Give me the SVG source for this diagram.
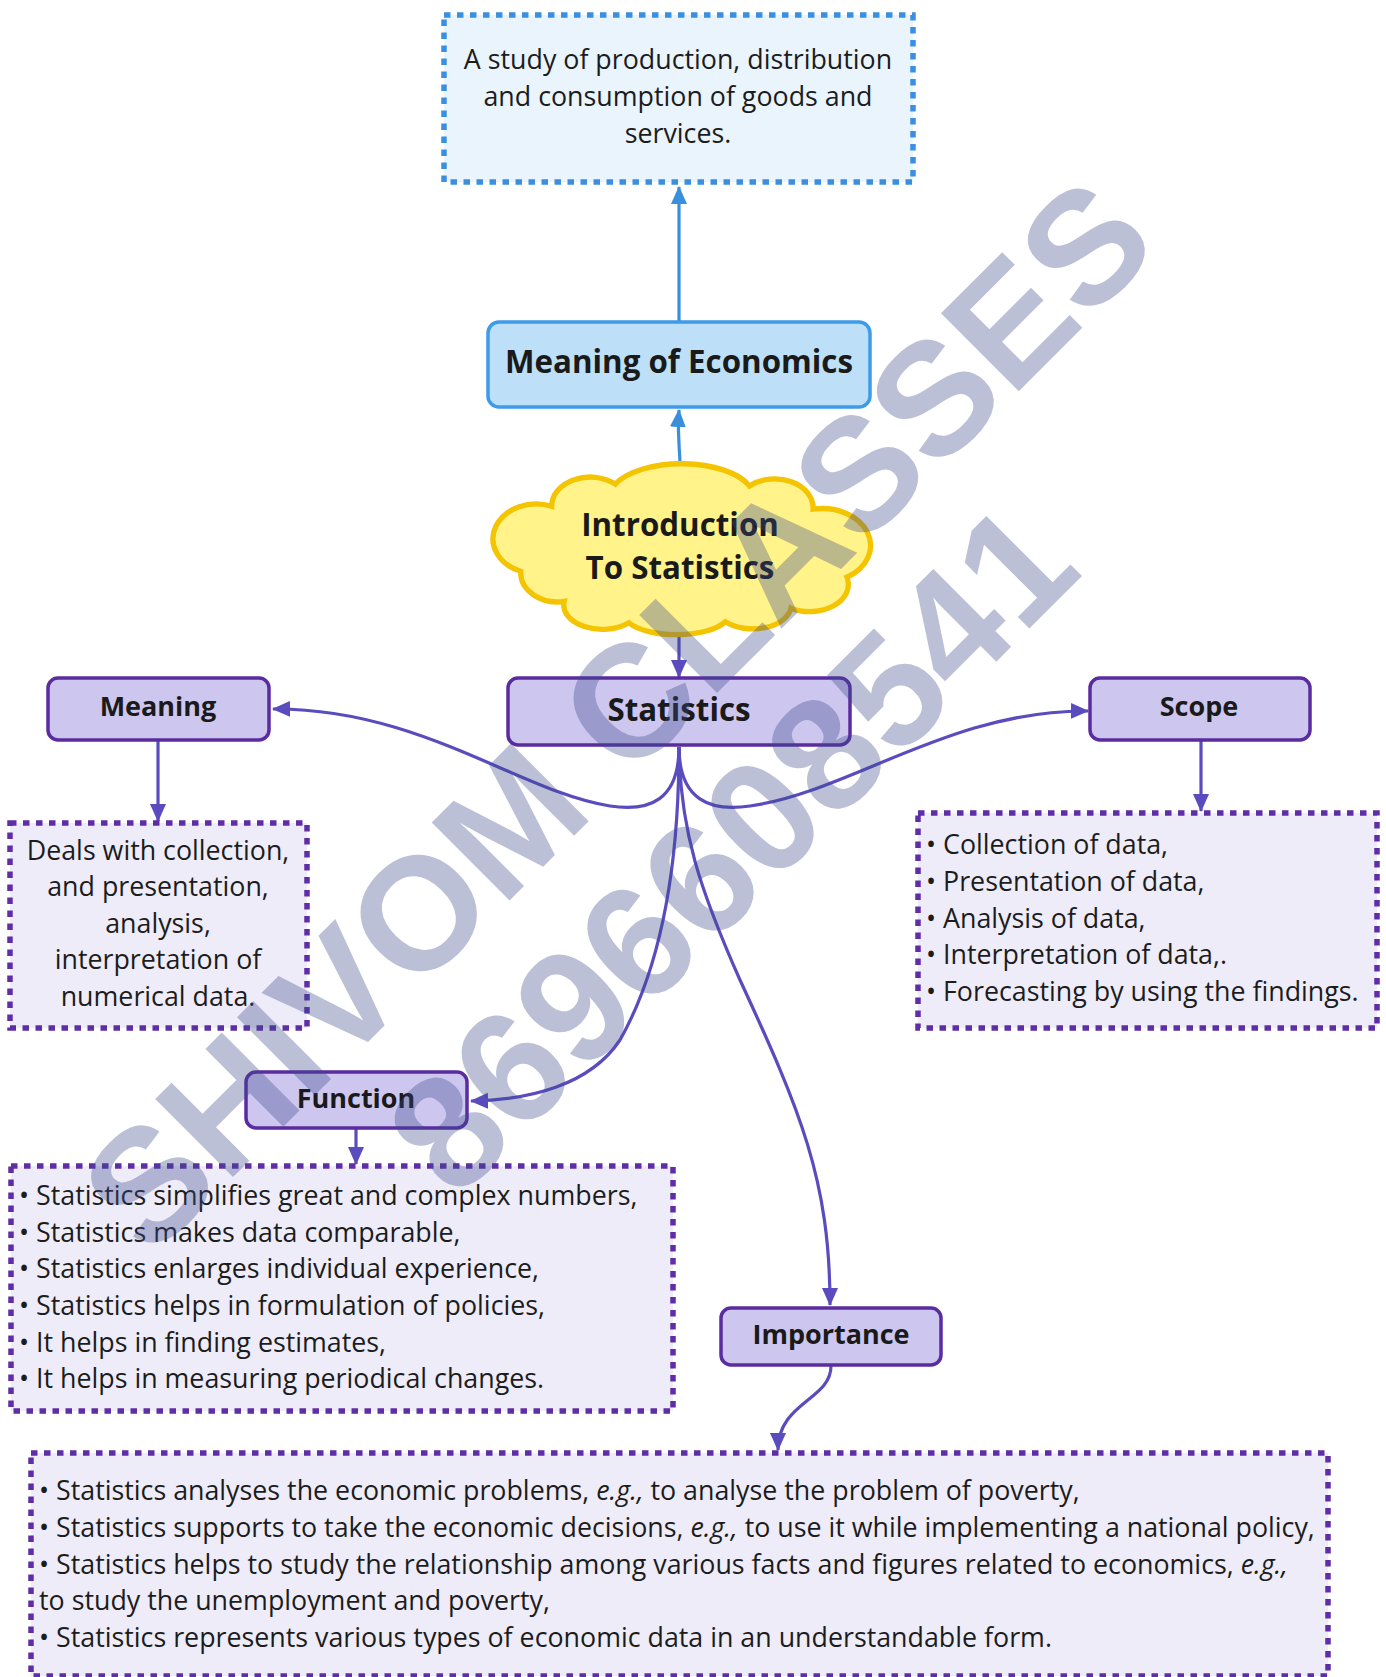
<svg xmlns="http://www.w3.org/2000/svg" width="1386" height="1677" viewBox="0 0 1386 1677">
<defs>
<style>
.txt{font-family:"Open Sans","Noto Sans","Liberation Sans",sans-serif;font-size:26.8px;fill:#1c1c1c}
.hd{font-family:"Open Sans","Noto Sans","Liberation Sans",sans-serif;font-weight:700;fill:#1a1a1a}
.mid{text-anchor:middle}
.pbox{fill:#cdc7ef;stroke:#5a2ca0;stroke-width:3.5}
.pdot{fill:#eeecf8;stroke:#5f2ea6;stroke-width:5.5;stroke-dasharray:6.5 6.5}
.bdot{fill:#eaf4fc;stroke:#3b8fe0;stroke-width:5.5;stroke-dasharray:6.5 6.5}
.pc{fill:none;stroke:#5a4bbf;stroke-width:3.2}
.bc{fill:none;stroke:#3a8fdc;stroke-width:3.2}
.wm{font-family:"Liberation Sans",Arial,sans-serif;font-weight:700;font-size:160px;fill:#3c4a8c;fill-opacity:0.35}
</style>
<marker id="ap" markerUnits="userSpaceOnUse" markerWidth="18" markerHeight="18" viewBox="0 0 18 18" refX="17" refY="9" orient="auto">
<path d="M0,1 L18,9 L0,17 z" fill="#5a4bbf"/>
</marker>
<marker id="ab" markerUnits="userSpaceOnUse" markerWidth="18" markerHeight="18" viewBox="0 0 18 18" refX="17" refY="9" orient="auto">
<path d="M0,1 L18,9 L0,17 z" fill="#3a8fdc"/>
</marker>
</defs>
<rect width="1386" height="1677" fill="#ffffff"/>

<g id="connectors">
<path class="bc" d="M679,322 L679,187" marker-end="url(#ab)"/>
<path class="bc" d="M680,465 C680,448 677,440 679,410" marker-end="url(#ab)"/>
<path class="pc" d="M679,633 L679,677" marker-end="url(#ap)"/>
<path class="pc" d="M679,747 C679,800 650,812 610,806 C520,792 420,708 273,709" marker-end="url(#ap)"/>
<path class="pc" d="M679,747 C679,800 710,812 750,806 C850,792 950,710 1088,711" marker-end="url(#ap)"/>
<path class="pc" d="M679,747 C679,850 665,960 620,1040 C590,1085 530,1100 471,1101" marker-end="url(#ap)"/>
<path class="pc" d="M679,747 C680,830 700,890 740,980 C800,1110 830,1180 830,1305" marker-end="url(#ap)"/>
<path class="pc" d="M158,740 L158,821" marker-end="url(#ap)"/>
<path class="pc" d="M1201,740 L1201,811" marker-end="url(#ap)"/>
<path class="pc" d="M356,1128 L356,1164" marker-end="url(#ap)"/>
<path class="pc" d="M831,1366 C831,1400 778,1402 778,1450" marker-end="url(#ap)"/>
</g>

<g id="economics-definition">
<rect class="bdot" x="444" y="15" width="469" height="167"/>
<text class="txt mid" x="678" y="69">A study of production, distribution</text>
<text class="txt mid" x="678" y="106">and consumption of goods and</text>
<text class="txt mid" x="678" y="143">services.</text>
</g>

<g id="meaning-of-economics">
<rect x="488" y="322" width="382" height="85" rx="11" fill="#bde0f8" stroke="#3d9be9" stroke-width="3.5"/>
<text class="hd mid" x="679" y="373" font-size="31.3">Meaning of Economics</text>
</g>

<g id="intro-cloud">
<path transform="translate(680,549) scale(0.965,0.97) translate(-680,-549)" d="M547,505 A40,30 0 0 1 613,482 A75,35 0 0 1 752,484 A40,30 0 0 1 818,508 A50,38 0 0 1 853,578 A40,28 0 0 1 795,610 A40,25 0 0 1 727,624 A55,22 0 0 1 627,625 A40,25 0 0 1 560,603 A38,30 0 0 1 515,572 A40,32 0 0 1 547,505 Z" fill="#fff38a" stroke="#f5c400" stroke-width="5.5"/>
<text class="hd mid" x="680" y="536" font-size="31.3">Introduction</text>
<text class="hd mid" x="680" y="579" font-size="31.3">To Statistics</text>
</g>

<g id="statistics">
<rect class="pbox" x="508" y="678" width="342" height="67" rx="10"/>
<text class="hd mid" x="679" y="721" font-size="31.3">Statistics</text>
</g>

<g id="meaning">
<rect class="pbox" x="48" y="678" width="221" height="62" rx="10"/>
<text class="hd mid" x="158" y="716" font-size="27">Meaning</text>
</g>

<g id="meaning-desc">
<rect class="pdot" x="10" y="823" width="297" height="205"/>
<text class="txt mid" x="158" y="860">Deals with collection,</text>
<text class="txt mid" x="158" y="896">and presentation,</text>
<text class="txt mid" x="158" y="933">analysis,</text>
<text class="txt mid" x="158" y="969">interpretation of</text>
<text class="txt mid" x="158" y="1006">numerical data.</text>
</g>

<g id="scope">
<rect class="pbox" x="1090" y="678" width="220" height="62" rx="10"/>
<text class="hd mid" x="1199" y="716" font-size="27">Scope</text>
</g>

<g id="scope-desc">
<rect class="pdot" x="918" y="813" width="459" height="215"/>
<text class="txt" x="926" y="854">• Collection of data,</text>
<text class="txt" x="926" y="891">• Presentation of data,</text>
<text class="txt" x="926" y="928">• Analysis of data,</text>
<text class="txt" x="926" y="964">• Interpretation of data,.</text>
<text class="txt" x="926" y="1001">• Forecasting by using the findings.</text>
</g>

<g id="function">
<rect class="pbox" x="246" y="1072" width="221" height="56" rx="10"/>
<text class="hd mid" x="356" y="1108" font-size="27">Function</text>
</g>

<g id="function-desc">
<rect class="pdot" x="11" y="1166" width="662" height="245"/>
<text class="txt" x="19" y="1205">• Statistics simplifies great and complex numbers,</text>
<text class="txt" x="19" y="1242">• Statistics makes data comparable,</text>
<text class="txt" x="19" y="1278">• Statistics enlarges individual experience,</text>
<text class="txt" x="19" y="1315">• Statistics helps in formulation of policies,</text>
<text class="txt" x="19" y="1352">• It helps in finding estimates,</text>
<text class="txt" x="19" y="1388">• It helps in measuring periodical changes.</text>
</g>

<g id="importance">
<rect class="pbox" x="721" y="1308" width="220" height="57" rx="10"/>
<text class="hd mid" x="831" y="1344" font-size="27">Importance</text>
</g>

<g id="importance-desc">
<rect class="pdot" x="31" y="1453" width="1297" height="223"/>
<text class="txt" x="39" y="1500">• Statistics analyses the economic problems, <tspan font-style="italic">e.g.,</tspan> to analyse the problem of poverty,</text>
<text class="txt" x="39" y="1537">• Statistics supports to take the economic decisions, <tspan font-style="italic">e.g.,</tspan> to use it while implementing a national policy,</text>
<text class="txt" x="39" y="1574">• Statistics helps to study the relationship among various facts and figures related to economics, <tspan font-style="italic">e.g.,</tspan></text>
<text class="txt" x="39" y="1610">to study the unemployment and poverty,</text>
<text class="txt" x="39" y="1647">• Statistics represents various types of economic data in an understandable form.</text>
</g>

<g id="watermark">
<text class="wm" transform="translate(150,1260) rotate(-45)">SHIVOM CLASSES</text>
<text class="wm" transform="translate(456,1202) rotate(-45)">8696608541</text>
</g>
</svg>
